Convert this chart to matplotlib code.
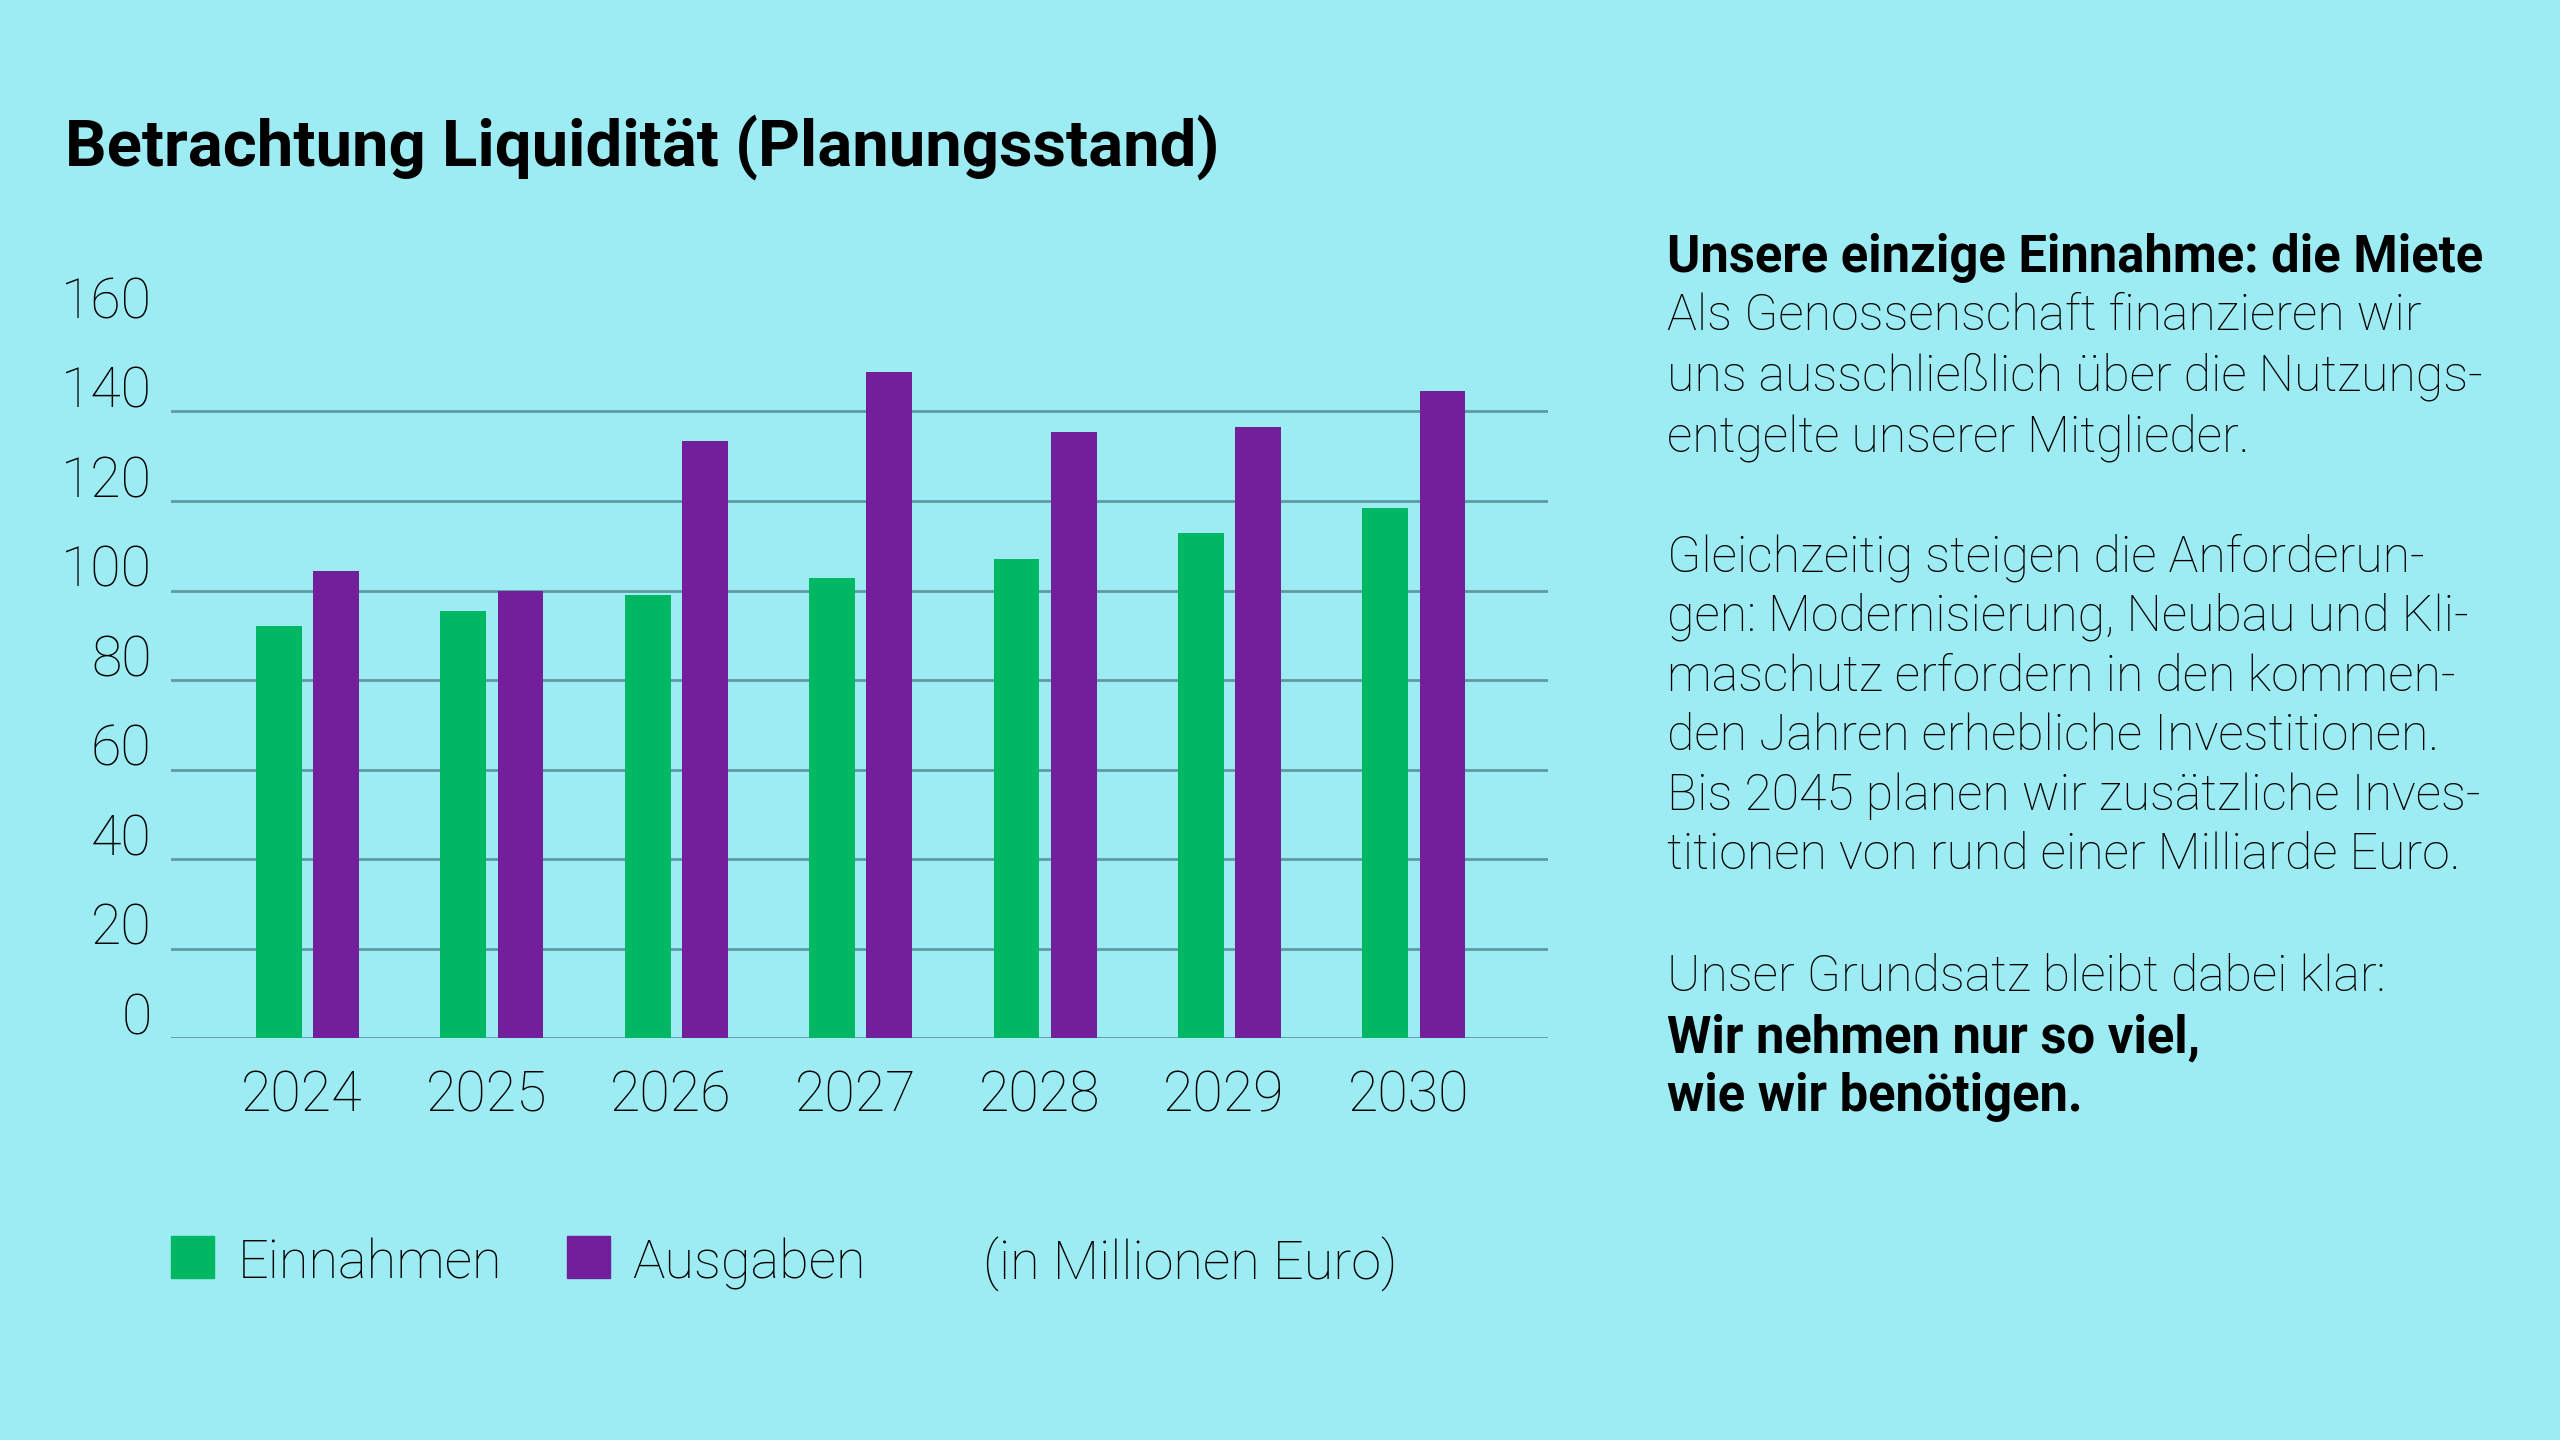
import numpy as np
import matplotlib
matplotlib.use("Agg")
from matplotlib import pyplot as plt
from matplotlib.patches import Rectangle

# Daten (in Millionen Euro)
jahre      = ["2024", "2025", "2026", "2027", "2028", "2029", "2030"]
einnahmen  = [92.0, 95.5, 99.0, 102.7, 107.0, 112.8, 118.5]
ausgaben   = [104.3, 100.0, 133.4, 148.8, 135.4, 136.6, 144.5]
y_ticks    = [0, 20, 40, 60, 80, 100, 120, 140, 160]

BG     = "#9DEBF3"
GREEN  = "#00B864"
PURPLE = "#731E9A"
GRID   = "#5E9BA2"
FONT   = "Roboto"

W, H = 2560, 1440
fig = plt.figure(figsize=(W/100, H/100), dpi=100, facecolor=BG)

def fx(px):
    return px / W

def fy(py):
    return 1 - py / H

# Achse
left, right, bottom, top = 171, 1548, 1038, 322
ax = fig.add_axes([fx(left), fy(bottom), fx(right - left), (bottom - top) / H])
ax.set_facecolor(BG)

x = np.arange(len(jahre))
bw = 0.248
off = 0.155
ax.bar(x - off, einnahmen, bw, color=GREEN, zorder=3)
ax.bar(x + off, ausgaben, bw, color=PURPLE, zorder=3)

ax.set_xlim(-0.74, 6.727)
ax.set_ylim(0, 160)

for t in y_ticks[:-1]:
    ax.axhline(t, color=GRID, lw=2, zorder=2)

for s in ax.spines.values():
    s.set_visible(False)
ax.set_xticks([])
ax.set_yticks([])

# y-Beschriftung
for t in y_ticks:
    ax.text(-0.014, t + 0.8, str(t), transform=ax.get_yaxis_transform(),
            ha="right", va="baseline", fontsize=40, family=FONT,
            fontweight="light", color="black")

# x-Beschriftung
for i, j in enumerate(jahre):
    ax.text(i - 0.03, -58 / 4.476, j, ha="center", va="center", fontsize=40,
            family=FONT, fontweight="light", color="black", clip_on=False)

# Titel
fig.text(fx(65), fy(147), "Betrachtung Liquidität (Planungsstand)",
         ha="left", va="center", fontsize=47, family=FONT,
         fontweight="bold", color="black")

# Legende
leg_y0, leg_y1 = 1236, 1278
fig.patches.append(Rectangle((fx(171), fy(leg_y1)), fx(43), (leg_y1 - leg_y0) / H,
                             transform=fig.transFigure, color=GREEN))
fig.patches.append(Rectangle((fx(567), fy(leg_y1)), fx(43), (leg_y1 - leg_y0) / H,
                             transform=fig.transFigure, color=PURPLE))
for xp, txt in [(238, "Einnahmen"), (632, "Ausgaben"), (983, "(in Millionen Euro)")]:
    fig.text(fx(xp), fy(1264), txt, ha="left", va="center", fontsize=39,
             family=FONT, fontweight="light", color="black")

# Rechter Textblock
zeilen = [
    ("Unsere einzige Einnahme: die Miete", "bold", 156),
    ("Als Genossenschaft finanzieren wir", "light", 192),
    ("uns ausschließlich über die Nutzungs-", "light", 229),
    ("entgelte unserer Mitglieder.", "light", 266),
    ("Gleichzeitig steigen die Anforderun-", "light", 340),
    ("gen: Modernisierung, Neubau und Kli-", "light", 376),
    ("maschutz erfordern in den kommen-", "light", 413),
    ("den Jahren erhebliche Investitionen.", "light", 449),
    ("Bis 2045 planen wir zusätzliche Inves-", "light", 486),
    ("titionen von rund einer Milliarde Euro.", "light", 522),
    ("Unser Grundsatz bleibt dabei klar:", "light", 597),
    ("Wir nehmen nur so viel,", "bold", 634),
    ("wie wir benötigen.", "bold", 670),
]
for txt, wt, yd in zeilen:
    fs = 36.5 if wt == "bold" else 36
    fig.text(fx(1667), fy(yd * 1.6327 + 3), txt, ha="left", va="center",
             fontsize=fs, family=FONT, fontweight=wt, color="black")

fig.savefig("out.png", dpi=100, facecolor=BG)
